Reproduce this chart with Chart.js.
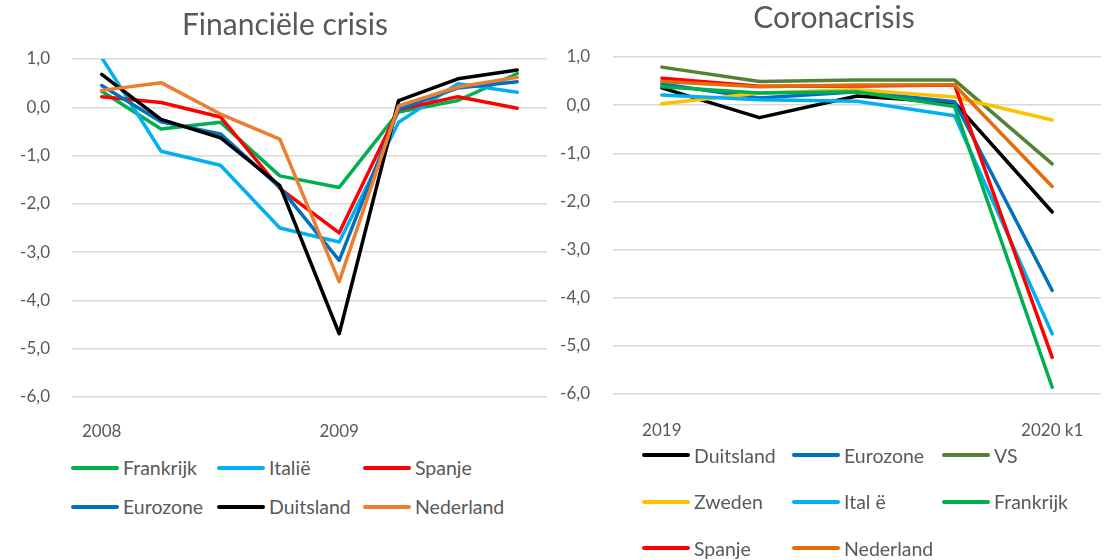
<!DOCTYPE html>
<html lang="nl">
<head>
<meta charset="utf-8">
<title>Financiële crisis en coronacrisis</title>
<script src="https://cdn.jsdelivr.net/npm/chart.js@4.4.1/dist/chart.umd.min.js"></script>
<style>
    html, body {margin: 0; padding: 0; background: #fff;}
    body {width: 1104px; height: 560px; position: relative; overflow: hidden; font-family: Lato, sans-serif; color: #595959;}
    canvas {position: absolute; top: 0;}
    #grafiekLinks {left: 0;}
    #grafiekRechts {left: 545px;}
    .legenda {position: absolute; display: grid;}
    #legendaLinks {left: 71px; top: 448px; grid-template-columns: 146px 146px 146px; grid-auto-rows: 39px;}
    #legendaRechts {left: 642px; top: 432px; grid-template-columns: 150px 150px 150px; grid-auto-rows: 46.5px;}
    .item {display: flex; align-items: center; font-size: 19.5px; white-space: nowrap;}
    .item i {display: inline-block; width: 48px; height: 4px; border-radius: 2px; margin-right: 4px;}
</style>
</head>
<body>
<canvas id="grafiekLinks" width="560" height="440"></canvas>
<canvas id="grafiekRechts" width="559" height="440"></canvas>
<div id="legendaLinks" class="legenda"></div>
<div id="legendaRechts" class="legenda"></div>

<script>
// Financiële crisis (kwartalen 2008-2009)
const kwartalenFin = ['2008', '', '', '', '2009', '', '', ''];
const frankrijkFin = [0.33, -0.45, -0.31, -1.42, -1.66, -0.10, 0.14, 0.70];
const italieFin = [1.03, -0.91, -1.20, -2.50, -2.79, -0.31, 0.49, 0.31];
const spanjeFin = [0.22, 0.10, -0.20, -1.68, -2.60, -0.05, 0.22, -0.02];
const eurozoneFin = [0.45, -0.30, -0.55, -1.66, -3.17, -0.05, 0.40, 0.53];
const duitslandFin = [0.68, -0.25, -0.63, -1.62, -4.69, 0.14, 0.59, 0.77];
const nederlandFin = [0.35, 0.51, -0.14, -0.66, -3.61, 0.03, 0.42, 0.62];

// Coronacrisis (kwartalen 2019 - 2020 k1)
const kwartalenCorona = ['2019', '', '', '', '2020 k1'];
const duitslandCorona = [0.36, -0.26, 0.19, 0.05, -2.22];
const eurozoneCorona = [0.44, 0.15, 0.28, 0.07, -3.85];
const vsCorona = [0.79, 0.49, 0.52, 0.52, -1.22];
const zwedenCorona = [0.03, 0.25, 0.32, 0.17, -0.31];
const italieCorona = [0.21, 0.11, 0.08, -0.22, -4.75];
const frankrijkCorona = [0.38, 0.25, 0.28, -0.03, -5.86];
const spanjeCorona = [0.56, 0.39, 0.40, 0.42, -5.24];
const nederlandCorona = [0.49, 0.38, 0.42, 0.42, -1.69];

const yTicks = [1, 0, -1, -2, -3, -4, -5, -6];

const tekstKleur = '#595959';
const rasterKleur = '#D9D9D9';

function reeks(naam, waarden, kleur, i) {
    return {
        label: naam,
        data: waarden,
        borderColor: kleur,
        backgroundColor: kleur,
        borderWidth: 3.5,
        borderJoinStyle: 'round',
        borderCapStyle: 'round',
        pointRadius: 0,
        tension: 0,
        order: -i // latere reeks bovenop, zoals in Excel
    };
}

function maakGrafiek(id, titel, opties) {
    // titel staat in Excel niet precies boven het plotgebied: midden verschuiven
    var titelMidden = {
        id: 'titelMidden',
        afterLayout: function (c) {
            var b = c.titleBlock;
            var half = (b.right - b.left) / 2;
            b.left = opties.titelX - half;
            b.right = opties.titelX + half;
        }
    };
    return new Chart(document.getElementById(id), {
        type: 'line',
        data: {labels: opties.labels, datasets: opties.reeksen},
        plugins: [titelMidden],
        options: {
            responsive: false,
            animation: false,
            events: [],
            layout: {padding: opties.padding},
            plugins: {
                legend: {display: false},
                tooltip: {enabled: false},
                title: {
                    display: true,
                    text: titel,
                    color: tekstKleur,
                    font: {family: 'Lato', size: 30, weight: 'normal'},
                    padding: opties.titelPadding
                }
            },
            scales: {
                x: {
                    offset: true,
                    grid: {display: false},
                    border: {display: false},
                    afterFit: function (s) { s.height = opties.xHoogte; },
                    ticks: {
                        autoSkip: false,
                        maxRotation: 0,
                        padding: opties.xPadding,
                        color: tekstKleur,
                        font: {family: 'Lato', size: 17}
                    }
                },
                y: {
                    min: yTicks[yTicks.length - 1],
                    max: yTicks[0],
                    grid: {color: rasterKleur, lineWidth: 1.5, drawTicks: false},
                    border: {display: false},
                    afterFit: function (s) { s.width = opties.yBreedte; },
                    afterBuildTicks: function (s) {
                        s.ticks = yTicks.map(function (v) { return {value: v}; });
                    },
                    ticks: {
                        padding: opties.yPadding,
                        color: tekstKleur,
                        font: {family: 'Lato', size: 17},
                        callback: function (v) { return v.toFixed(1).replace('.', ','); }
                    }
                }
            }
        }
    });
}

function maakLegenda(id, grafiek) {
    var doel = document.getElementById(id);
    grafiek.data.datasets.forEach(function (ds) {
        var el = document.createElement('div');
        el.className = 'item';
        el.innerHTML = '<i style="background:' + ds.borderColor + '"></i><span></span>';
        el.querySelector('span').textContent = ds.label;
        doel.appendChild(el);
    });
}

var links = maakGrafiek('grafiekLinks', 'Financiële crisis', {
    labels: kwartalenFin,
    reeksen: [
        reeks('Frankrijk', frankrijkFin, '#00B050', 0),
        reeks('Italië', italieFin, '#00B0F0', 1),
        reeks('Spanje', spanjeFin, '#FF0000', 2),
        reeks('Eurozone', eurozoneFin, '#0070C0', 3),
        reeks('Duitsland', duitslandFin, '#000000', 4),
        reeks('Nederland', nederlandFin, '#ED7D31', 5)
    ],
    padding: {left: 0, right: 13, top: 0, bottom: 0},
    titelX: 285,
    titelPadding: {top: 7, bottom: 16},
    xHoogte: 43,
    xPadding: 16,
    yBreedte: 72,
    yPadding: 22
});

var rechts = maakGrafiek('grafiekRechts', 'Coronacrisis', {
    labels: kwartalenCorona,
    reeksen: [
        reeks('Duitsland', duitslandCorona, '#000000', 0),
        reeks('Eurozone', eurozoneCorona, '#0070C0', 1),
        reeks('VS', vsCorona, '#548235', 2),
        reeks('Zweden', zwedenCorona, '#FFC000', 3),
        reeks('Ital ë', italieCorona, '#00B0F0', 4),
        reeks('Frankrijk', frankrijkCorona, '#00B050', 5),
        reeks('Spanje', spanjeCorona, '#FF0000', 6),
        reeks('Nederland', nederlandCorona, '#E46C0A', 7)
    ],
    padding: {left: 0, right: 3, top: 0, bottom: 0},
    titelX: 289,
    titelPadding: {top: 0, bottom: 21},
    xHoogte: 46,
    xPadding: 18,
    yBreedte: 68,
    yPadding: 23
});

maakLegenda('legendaLinks', links);
maakLegenda('legendaRechts', rechts);
</script>
</body>
</html>
